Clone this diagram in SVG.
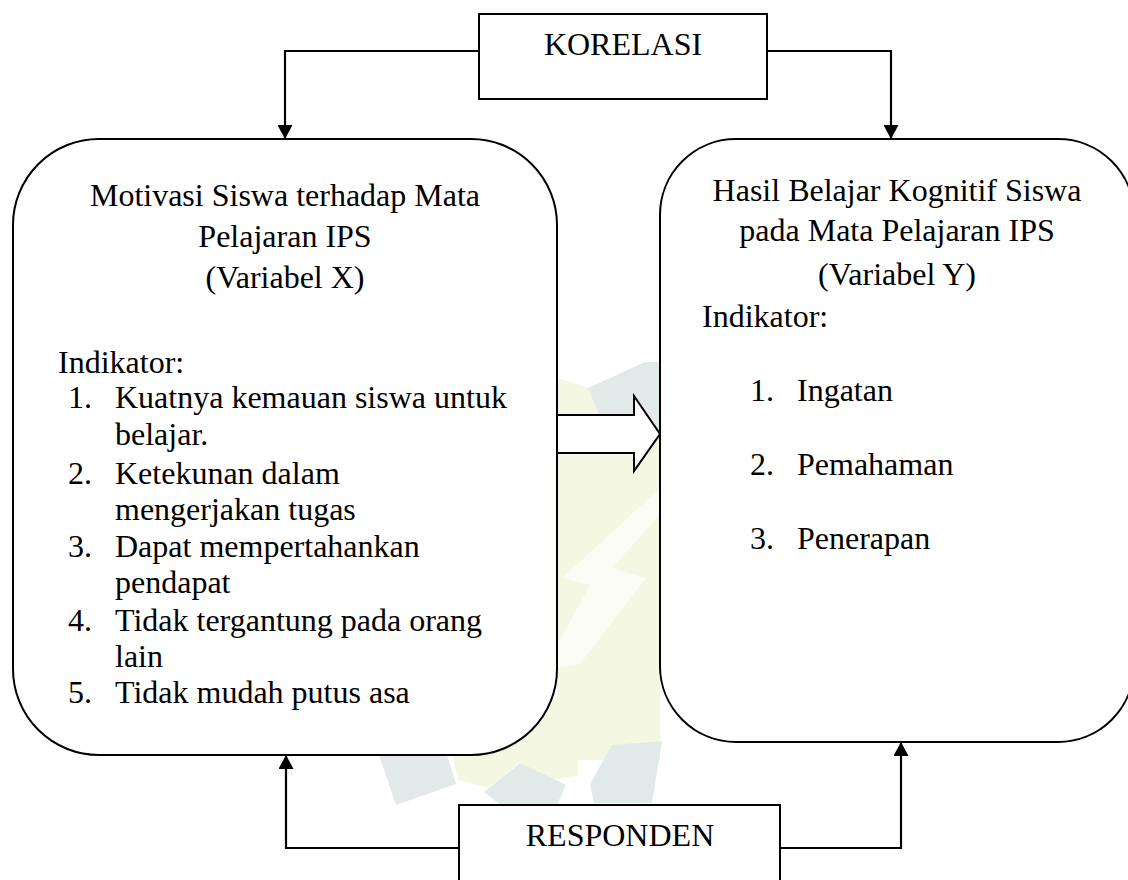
<svg xmlns="http://www.w3.org/2000/svg" width="1128" height="880" viewBox="0 0 1128 880">
<style>
  text { font-family: 'Liberation Serif', 'Tinos', 'Times New Roman', 'DejaVu Serif', serif; font-size: 32px; fill: #000; }
  .c { text-anchor: middle; }
  .box { fill: #fff; stroke: #000; stroke-width: 2; }
  .ln { fill: none; stroke: #000; stroke-width: 2.2; }
  .teal { fill: #e2e9e9; }
  .yel { fill: #f4f7e1; }
</style>
<defs>
  <marker id="ah" viewBox="0 0 14 15" refX="14" refY="7.5" markerWidth="14" markerHeight="15" markerUnits="userSpaceOnUse" orient="auto">
    <path d="M0,0 L14,7.5 L0,15 Z" fill="#000"/>
  </marker>
</defs>
<rect width="1128" height="880" fill="#fff"/>
<g id="watermark">
  <polygon class="yel" points="557,378 590,388 612,445 660,440 660,760 557,760"/>
  <polygon class="teal" points="588,388 645,362 660,362 660,440 612,445"/>
  <polygon fill="#fbfcf4" points="660,488 660,515 612,568 646,578 580,664 557,668 557,645 590,585 562,578"/>
  <polygon class="yel" points="440,700 580,700 578,776 548,780 520,762 488,788 458,780"/>
  <polygon class="teal" points="378,752 443,743 456,784 396,805"/>
  <polygon class="teal" points="484,792 520,763 566,785 556,807 506,809"/>
  <polygon class="teal" points="590,784 612,745 662,741 652,803 594,803"/>
</g>
<g id="node-korelasi">
  <rect class="box" x="479" y="14" width="288" height="85"/>
  <text class="c" x="623" y="55">KORELASI</text>
</g>
<g id="node-x">
  <rect class="box" x="13" y="139" width="544" height="616" rx="86" ry="86"/>
  <text class="c" x="285" y="206">Motivasi Siswa terhadap Mata</text>
  <text class="c" x="285" y="247">Pelajaran IPS</text>
  <text class="c" x="285" y="288">(Variabel X)</text>
  <text x="58" y="373">Indikator:</text>
  <text x="68" y="408">1.</text>
  <text x="115" y="408">Kuatnya kemauan siswa untuk</text>
  <text x="115" y="445">belajar.</text>
  <text x="68" y="484">2.</text>
  <text x="115" y="484">Ketekunan dalam</text>
  <text x="115" y="520">mengerjakan tugas</text>
  <text x="68" y="557">3.</text>
  <text x="115" y="557">Dapat mempertahankan</text>
  <text x="115" y="593">pendapat</text>
  <text x="68" y="631">4.</text>
  <text x="115" y="631">Tidak tergantung pada orang</text>
  <text x="115" y="667">lain</text>
  <text x="68" y="703">5.</text>
  <text x="115" y="703">Tidak mudah putus asa</text>
</g>
<g id="node-y">
  <rect class="box" x="660" y="139" width="474" height="603" rx="76" ry="76"/>
  <text class="c" x="897" y="201">Hasil Belajar Kognitif Siswa</text>
  <text class="c" x="897" y="241">pada Mata Pelajaran IPS</text>
  <text class="c" x="897" y="285">(Variabel Y)</text>
  <text x="702" y="327">Indikator:</text>
  <text x="750" y="401">1.</text>
  <text x="797" y="401">Ingatan</text>
  <text x="750" y="475">2.</text>
  <text x="797" y="475">Pemahaman</text>
  <text x="750" y="549">3.</text>
  <text x="797" y="549">Penerapan</text>
</g>
<g id="node-responden">
  <rect class="box" x="459" y="805" width="321" height="90"/>
  <text class="c" x="620" y="846">RESPONDEN</text>
</g>
<g id="connectors">
  <polyline class="ln" points="479,51 285,51 285,139" marker-end="url(#ah)"/>
  <polyline class="ln" points="767,51 891,51 891,139" marker-end="url(#ah)"/>
  <polyline class="ln" points="459,848 286,848 286,755" marker-end="url(#ah)"/>
  <polyline class="ln" points="780,848 901,848 901,742" marker-end="url(#ah)"/>
  <polygon fill="#fff" stroke="#000" stroke-width="2" stroke-linejoin="miter" points="557,415 634,415 634,396 660,434 634,471 634,453 557,453"/>
</g>
</svg>
